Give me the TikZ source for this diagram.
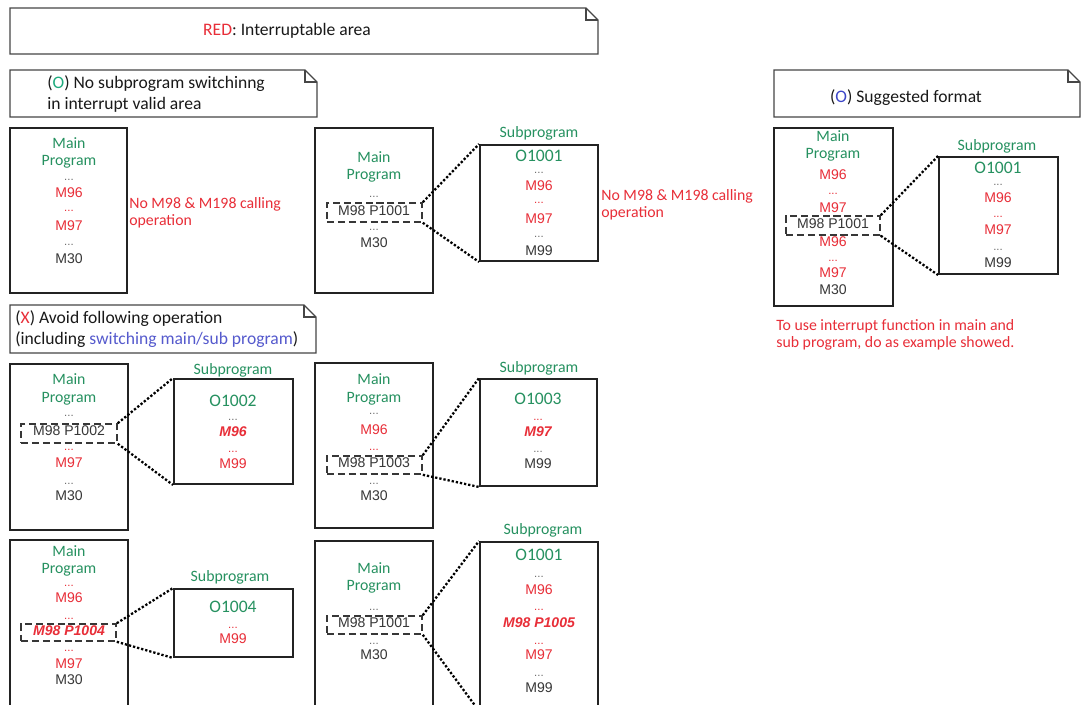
\documentclass[tikz,border=0pt]{standalone}
\usepackage{fontspec}
\setmainfont{Carlito}
\newfontfamily\arialfont{Liberation Sans}
\usepackage{tikz}
\usetikzlibrary{fit}
\definecolor{ired}{RGB}{232,46,56}
\definecolor{mgreen}{RGB}{38,145,96}
\definecolor{okgreen}{RGB}{30,170,125}
\definecolor{okblue}{RGB}{60,70,200}
\definecolor{swblue}{RGB}{85,90,205}
\definecolor{codegray}{RGB}{55,55,55}
\definecolor{dotgray}{RGB}{110,110,110}
\definecolor{boxline}{RGB}{35,35,35}
\definecolor{notegray}{RGB}{70,70,70}
\definecolor{headblack}{RGB}{25,25,25}
\tikzset{
  notebox/.style={draw=notegray, line width=0.7pt},
  headtxt/.style={font=\fontsize{10}{12}\selectfont, text=headblack,
                  inner sep=0pt, text height=6.4pt, text depth=0pt},
  headnote/.style={font=\fontsize{10}{12}\selectfont, text=headblack,
                   inner sep=0pt, align=left, anchor=west},
  progbox/.style={draw=boxline, line width=1.1pt, inner sep=0pt},
  callbox/.style={draw=codegray, line width=0.9pt, inner sep=0pt,
                  dash pattern=on 4pt off 2.2pt},
  zoomline/.style={draw=black, line width=1.3pt, dash pattern=on 1.3pt off 1.1pt},
  lbl/.style={font=\fontsize{9}{10}\selectfont, text=mgreen,
              inner sep=0pt, text height=5.8pt, text depth=0pt},
  onum/.style={font=\fontsize{10}{11}\selectfont, text=mgreen,
               inner sep=0pt, text height=6.4pt, text depth=0pt},
  code/.style={font=\arialfont\fontsize{8}{9}\selectfont, text=codegray,
               inner sep=0pt, text height=5.7pt, text depth=0pt},
  codered/.style={code, text=ired},
  hotcode/.style={code, text=ired, font=\arialfont\bfseries\itshape\fontsize{8}{9}\selectfont},
  dotrow/.style={font=\arialfont\fontsize{6.5}{7}\selectfont, text=dotgray,
                 inner sep=0pt, anchor=base},
  reddots/.style={dotrow, text=ired},
  rednote/.style={font=\fontsize{9}{9.8}\selectfont, text=ired,
                  inner sep=0pt, align=left, anchor=west},
}

\begin{document}
\begin{tikzpicture}[x=0.02cm, y=-0.02cm]
  \useasboundingbox (0,0) rectangle (1081,705);
  \clip (0,0) rectangle (1081,705);
  \fill[white] (0,0) rectangle (1081,705);

  % note cards with folded corner
  \draw[notebox] (10,8) -- (586,8) -- (598,20) |- (10,54) -- cycle;
  \draw[notebox] (586,8) |- (598,20);
  \node[headtxt] (legend) at (287,30) {\textcolor{ired}{RED}: Interruptable area};

  \draw[notebox] (10,70) -- (305,70) -- (317,82) |- (10,117) -- cycle;
  \draw[notebox] (305,70) |- (317,82);
  \node[headnote] (noswitch) at (47,94)
    {(\textcolor{okgreen}{O}) No subprogram switchinng\\in interrupt valid area};

  \draw[notebox] (774,70) -- (1068,70) -- (1080,82) |- (774,117) -- cycle;
  \draw[notebox] (1068,70) |- (1080,82);
  \node[headtxt] (suggest) at (906,97) {(\textcolor{okblue}{O}) Suggested format};

  \draw[notebox] (10,305) -- (304,305) -- (316,317) |- (10,353) -- cycle;
  \draw[notebox] (304,305) |- (316,317);
  \node[headnote] (avoid) at (15,329)
    {(\textcolor{ired}{X}) Avoid following operation\\(including \textcolor{swblue}{switching main/sub program})};

  % main program only
  \node[progbox, fit={(10,128) (127,293)}] (aMain) {};
  \node[lbl] (aMainT) at (69,143) {Main};
  \node[lbl] (aProgT) at (69,160) {Program};
  \node[dotrow] (aD1) at (69,181) {...};
  \node[codered] (aM96) at (69,192) {M96};
  \node[reddots] (aD2) at (69,212) {...};
  \node[codered] (aM97) at (69,225) {M97};
  \node[dotrow] (aD3) at (69,246) {...};
  \node[code] (aM30) at (69,258) {M30};
  \node[rednote] (aNote) at (129,213) {No M98 \& M198 calling\\operation};

  % main program calling O1001
  \node[progbox, fit={(315,128) (433,293)}] (bMain) {};
  \node[lbl] (bMainT) at (374,157) {Main};
  \node[lbl] (bProgT) at (374,174) {Program};
  \node[dotrow] (bD1) at (374,198) {...};
  \node[callbox, fit={(327,203) (422,222)}] (bCall) {};
  \node[code] (bCallT) at (374,210) {M98 P1001};
  \node[dotrow] (bD2) at (374,231) {...};
  \node[code] (bM30) at (374,242) {M30};
  \node[lbl] (bSubT) at (539,132) {Subprogram};
  \node[progbox, fit={(480,145) (598,261)}] (bSub) {};
  \node[onum] (bO) at (539,156) {O1001};
  \node[dotrow] (bD3) at (539,174) {...};
  \node[codered] (bM96) at (539,185) {M96};
  \node[reddots] (bD4) at (539,204) {...};
  \node[codered] (bM97) at (539,218) {M97};
  \node[dotrow] (bD5) at (539,238) {...};
  \node[code] (bM99) at (539,250) {M99};
  \node[rednote] (bNote) at (601,205) {No M98 \& M198 calling\\operation};
  \draw[zoomline] (bCall.north east) -- (bSub.north west);
  \draw[zoomline] (bCall.south east) -- (bSub.south west);

  % suggested format
  \node[progbox, fit={(774,128) (893,306)}] (cMain) {};
  \node[lbl] (cMainT) at (833,136) {Main};
  \node[lbl] (cProgT) at (833,153) {Program};
  \node[codered] (cM96a) at (833,174) {M96};
  \node[reddots] (cD1) at (833,195) {...};
  \node[codered] (cM97a) at (833,207) {M97};
  \node[callbox, fit={(786,216) (880,235)}] (cCall) {};
  \node[code] (cCallT) at (833,223) {M98 P1001};
  \node[codered] (cM96b) at (833,241) {M96};
  \node[reddots] (cD2) at (833,262) {...};
  \node[codered] (cM97b) at (833,272) {M97};
  \node[code] (cM30) at (833,289) {M30};
  \node[lbl] (cSubT) at (997,145) {Subprogram};
  \node[progbox, fit={(939,157) (1058,274)}] (cSub) {};
  \node[onum] (cO) at (998,168) {O1001};
  \node[dotrow] (cD3) at (998,186) {...};
  \node[codered] (cM96c) at (998,197) {M96};
  \node[reddots] (cD4) at (998,218) {...};
  \node[codered] (cM97c) at (998,229) {M97};
  \node[dotrow] (cD5) at (998,251) {...};
  \node[code] (cM99) at (998,262) {M99};
  \node[rednote] (cNote) at (776,335)
    {To use interrupt function in main and\\sub program, do as example showed.};
  \draw[zoomline] (cCall.north east) -- (cSub.north west);
  \draw[zoomline] (cCall.south east) -- (cSub.south west);

  % M96 inside O1002
  \node[progbox, fit={(10,364) (128,530)}] (dMain) {};
  \node[lbl] (dMainT) at (69,379) {Main};
  \node[lbl] (dProgT) at (69,397) {Program};
  \node[dotrow] (dD1) at (69,417) {...};
  \node[callbox, fit={(21,424) (117,443)}] (dCall) {};
  \node[code] (dCallT) at (69,430) {M98 P1002};
  \node[reddots] (dD2) at (69,450) {...};
  \node[codered] (dM97) at (69,462) {M97};
  \node[dotrow] (dD3) at (69,484) {...};
  \node[code] (dM30) at (69,495) {M30};
  \node[lbl] (dSubT) at (233,369) {Subprogram};
  \node[progbox, fit={(174,379) (293,484)}] (dSub) {};
  \node[onum] (dO) at (233,401) {O1002};
  \node[dotrow] (dD4) at (233,420) {...};
  \node[hotcode] (dM96) at (233,431) {M96};
  \node[reddots] (dD5) at (233,453) {...};
  \node[codered] (dM99) at (233,463) {M99};
  \draw[zoomline] (dCall.north east) -- (dSub.north west);
  \draw[zoomline] (dCall.south east) -- (dSub.south west);

  % M97 inside O1003
  \node[progbox, fit={(315,363) (433,528)}] (eMain) {};
  \node[lbl] (eMainT) at (374,379) {Main};
  \node[lbl] (eProgT) at (374,397) {Program};
  \node[dotrow] (eD1) at (374,415) {...};
  \node[codered] (eM96) at (374,429) {M96};
  \node[reddots] (eD2) at (374,450) {...};
  \node[callbox, fit={(327,456) (422,474)}] (eCall) {};
  \node[code] (eCallT) at (374,462) {M98 P1003};
  \node[dotrow] (eD3) at (374,484) {...};
  \node[code] (eM30) at (374,495) {M30};
  \node[lbl] (eSubT) at (539,367) {Subprogram};
  \node[progbox, fit={(480,379) (597,486)}] (eSub) {};
  \node[onum] (eO) at (538,399) {O1003};
  \node[reddots] (eD4) at (538,420) {...};
  \node[hotcode] (eM97) at (538,431) {M97};
  \node[dotrow] (eD5) at (538,453) {...};
  \node[code] (eM99) at (538,463) {M99};
  \draw[zoomline] (eCall.north east) -- (eSub.north west);
  \draw[zoomline] (eCall.south east) -- (eSub.south west);

  % call made inside the interrupt area
  \node[progbox, fit={(10,540) (128,710)}] (fMain) {};
  \node[lbl] (fMainT) at (69,551) {Main};
  \node[lbl] (fProgT) at (69,568) {Program};
  \node[reddots] (fD1) at (69,586) {...};
  \node[codered] (fM96) at (69,597) {M96};
  \node[reddots] (fD2) at (69,619) {...};
  \node[callbox, fit={(21,624) (116,641)}] (fCall) {};
  \node[hotcode] (fCallT) at (69,630) {M98 P1004};
  \node[reddots] (fD3) at (69,651) {...};
  \node[codered] (fM97) at (69,663) {M97};
  \node[code] (fM30) at (69,679) {M30};
  \node[lbl] (fSubT) at (230,576) {Subprogram};
  \node[progbox, fit={(174,589) (293,657)}] (fSub) {};
  \node[onum] (fO) at (233,607) {O1004};
  \node[reddots] (fD4) at (233,628) {...};
  \node[codered] (fM99) at (233,638) {M99};
  \draw[zoomline] (fCall.north east) -- (fSub.north west);
  \draw[zoomline] (fCall.south east) -- (fSub.south west);

  % nested call inside O1001
  \node[progbox, fit={(315,541) (433,710)}] (gMain) {};
  \node[lbl] (gMainT) at (374,568) {Main};
  \node[lbl] (gProgT) at (374,585) {Program};
  \node[dotrow] (gD1) at (374,610) {...};
  \node[callbox, fit={(327,616) (422,634)}] (gCall) {};
  \node[code] (gCallT) at (374,622) {M98 P1001};
  \node[dotrow] (gD2) at (374,644) {...};
  \node[code] (gM30) at (374,654) {M30};
  \node[lbl] (gSubT) at (543,529) {Subprogram};
  \node[progbox, fit={(480,542) (598,710)}] (gSub) {};
  \node[onum] (gO) at (539,555) {O1001};
  \node[dotrow] (gD3) at (539,577) {...};
  \node[codered] (gM96) at (539,589) {M96};
  \node[reddots] (gD4) at (539,610) {...};
  \node[hotcode] (gM98) at (539,622) {M98 P1005};
  \node[reddots] (gD5) at (539,644) {...};
  \node[codered] (gM97) at (539,654) {M97};
  \node[dotrow] (gD6) at (539,676) {...};
  \node[code] (gM99) at (539,687) {M99};
  \draw[zoomline] (gCall.north east) -- (gSub.north west);
  \draw[zoomline] (gCall.south east) -- (gSub.south west);
\end{tikzpicture}
\end{document}
